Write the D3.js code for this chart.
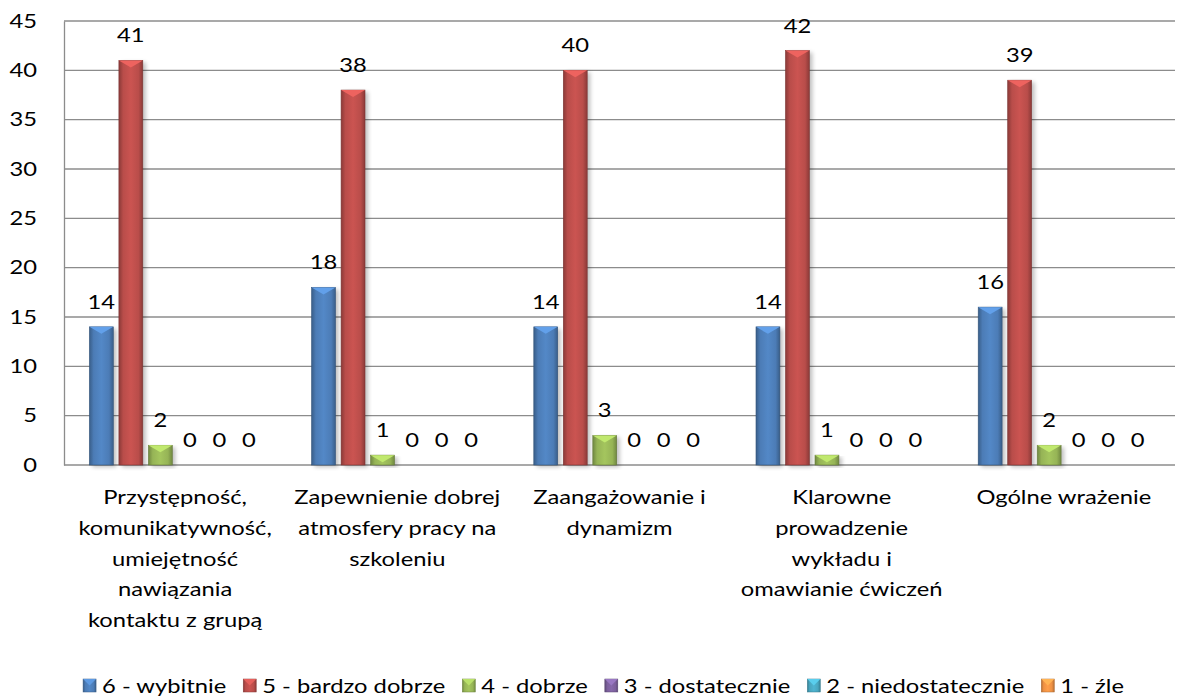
<!DOCTYPE html>
<html>
<head>
<meta charset="utf-8">
<script src="https://cdnjs.cloudflare.com/ajax/libs/d3/7.8.5/d3.min.js"></script>
<style>
  body { margin: 0; background: #fff; }
  text { font-family: Lato, "Open Sans", sans-serif; fill: #000; }
</style>
</head>
<body>
<svg width="1181" height="700"></svg>
<script>
const categories = [
  ["Przystępność,", "komunikatywność,", "umiejętność", "nawiązania", "kontaktu z grupą"],
  ["Zapewnienie dobrej", "atmosfery pracy na", "szkoleniu"],
  ["Zaangażowanie i", "dynamizm"],
  ["Klarowne", "prowadzenie", "wykładu i", "omawianie ćwiczeń"],
  ["Ogólne wrażenie"]
]
const seriesNames = ["6 - wybitnie", "5 - bardzo dobrze", "4 - dobrze", "3 - dostatecznie", "2 - niedostatecznie", "1 - źle"]
const seriesColors = ["#4f81bd", "#c0504d", "#9bbb59", "#8064a2", "#4bacc6", "#f79646"]
const wybitnie = [14, 18, 14, 14, 16]
const bardzoDobrze = [41, 38, 40, 42, 39]
const dobrze = [2, 1, 3, 1, 2]
const dostatecznie = [0, 0, 0, 0, 0]
const niedostatecznie = [0, 0, 0, 0, 0]
const zle = [0, 0, 0, 0, 0]
const seriesValues = [wybitnie, bardzoDobrze, dobrze, dostatecznie, niedostatecznie, zle]
const yTicks = [0, 5, 10, 15, 20, 25, 30, 35, 40, 45]

const svg = d3.select("svg")
const fontSize = 19
const sx = 1.25  // the source font is wider than Lato
const plotLeft = 64, plotRight = 1175, plotTop = 21, plotBottom = 465

const y = d3.scaleLinear().domain([0, 45]).range([plotBottom, plotTop])
const x0 = d3.scaleBand().domain(d3.range(categories.length)).range([plotLeft, plotRight])
const gw = x0.bandwidth()
const step = 29.5
const x1 = d3.scaleBand().domain(d3.range(seriesNames.length))
  .range([gw / 2 - 3 * step, gw / 2 + 3 * step])
const bw = x1.bandwidth() * 0.81

const defs = svg.append("defs")
seriesColors.forEach((c, i) => {
  const g = defs.append("linearGradient").attr("id", "grad" + i)
    .attr("x1", "0%").attr("x2", "100%").attr("y1", "0%").attr("y2", "0%")
  const base = d3.color(c)
  g.append("stop").attr("offset", "0%").attr("stop-color", base.darker(0.9))
  g.append("stop").attr("offset", "18%").attr("stop-color", base.darker(0.1))
  g.append("stop").attr("offset", "50%").attr("stop-color", base.brighter(0.15))
  g.append("stop").attr("offset", "82%").attr("stop-color", base.darker(0.1))
  g.append("stop").attr("offset", "100%").attr("stop-color", base.darker(0.9))
})
const blur = defs.append("filter").attr("id", "shadow").attr("x", "-50%").attr("y", "-10%")
  .attr("width", "200%").attr("height", "120%")
blur.append("feGaussianBlur").attr("stdDeviation", 2)

// gridlines
svg.append("g").selectAll("line").data(yTicks).join("line")
  .attr("x1", plotLeft).attr("x2", plotRight)
  .attr("y1", d => y(d)).attr("y2", d => y(d))
  .attr("stroke", "#8c8c8c").attr("stroke-width", 1.3)

// y axis
const yAxis = svg.append("g").attr("transform", `translate(${plotLeft},0)`)
  .call(d3.axisLeft(y).tickValues(yTicks).tickSize(0).tickPadding(27))
yAxis.select(".domain").attr("stroke", "#8c8c8c").attr("stroke-width", 1.3)
yAxis.selectAll("text")
  .attr("x", 0)
  .attr("transform", `translate(-27,0) scale(${sx},1)`)
  .style("font-size", fontSize + "px")
  .style("font-family", "Lato, 'Open Sans', sans-serif")

// bars
const groups = svg.append("g").selectAll("g").data(categories).join("g")
  .attr("transform", (d, i) => `translate(${x0(i)},0)`)

const bars = groups.selectAll("g.bar")
  .data((d, i) => seriesValues.map((s, j) => ({ s: j, v: s[i] })))
  .join("g").attr("class", "bar")

const barX = d => x1(d.s) + (x1.bandwidth() - bw) / 2

bars.filter(d => d.v > 0).append("rect")
  .attr("x", d => barX(d) + 3).attr("y", d => y(d.v) + 2)
  .attr("width", bw).attr("height", d => y(0) - y(d.v))
  .attr("fill", "#000").attr("opacity", 0.25).attr("filter", "url(#shadow)")

bars.filter(d => d.v > 0).append("rect")
  .attr("x", barX).attr("y", d => y(d.v))
  .attr("width", bw).attr("height", d => y(0) - y(d.v))
  .attr("fill", d => `url(#grad${d.s})`)
  .attr("stroke", d => d3.color(seriesColors[d.s]).darker(1.2)).attr("stroke-width", 0.6)

bars.filter(d => d.v > 0).append("path")
  .attr("d", d => {
    const x = barX(d), t = y(d.v)
    return `M${x},${t}L${x + bw},${t}L${x + bw / 2},${t + 7}Z`
  })
  .attr("fill", d => d3.color(seriesColors[d.s]).brighter(0.6))

bars.append("text")
  .attr("transform", d => `translate(${x1(d.s) + x1.bandwidth() / 2},${y(d.v) - 18}) scale(${sx},1)`)
  .attr("text-anchor", "middle")
  .style("font-size", fontSize + "px")
  .text(d => d.v)

// category labels
groups.append("text")
  .attr("transform", `translate(${gw / 2},0) scale(${sx},1)`)
  .attr("text-anchor", "middle")
  .style("font-size", fontSize + "px")
  .selectAll("tspan").data(d => d).join("tspan")
  .attr("x", 0)
  .attr("y", (d, i) => 504 + i * 30.8)
  .text(d => d)

// legend
const legend = svg.append("g")
const items = legend.selectAll("g").data(seriesNames).join("g")
items.append("text").attr("transform", `translate(19,693) scale(${sx},1)`)
  .style("font-size", fontSize + "px").text(d => d)
items.append("rect").attr("x", 0).attr("y", 679).attr("width", 13).attr("height", 13)
  .attr("fill", (d, i) => `url(#grad${i})`)
  .attr("stroke", (d, i) => d3.color(seriesColors[i]).darker(1)).attr("stroke-width", 0.5)
items.append("path")
  .attr("d", "M0,679L13,679L6.5,685.5Z")
  .attr("fill", (d, i) => d3.color(seriesColors[i]).brighter(0.5))
let pos = 0
items.each(function () {
  const w = d3.select(this).select("text").node().getComputedTextLength() * sx
  d3.select(this).attr("transform", `translate(${pos},0)`)
  pos += 19 + w + 17
})
legend.attr("transform", `translate(${603.5 - (pos - 17) / 2},0)`)
</script>
</body>
</html>
